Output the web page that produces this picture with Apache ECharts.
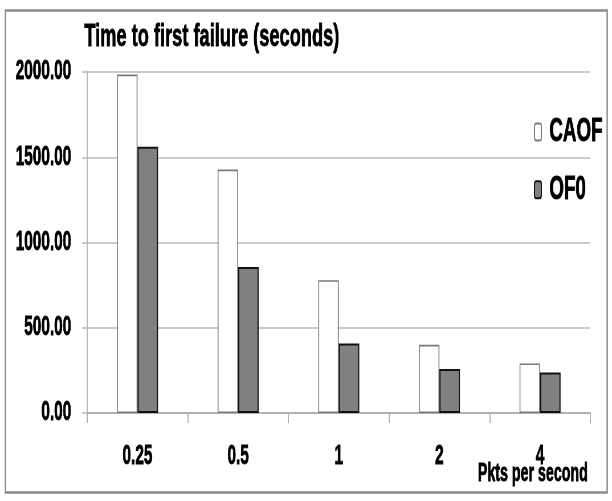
<!DOCTYPE html>
<html>
<head>
<meta charset="utf-8">
<script src="https://cdn.jsdelivr.net/npm/echarts@6/dist/echarts.min.js"></script>
<style>
html,body{margin:0;padding:0;background:#fff;overflow:hidden;width:612px;height:501px;}
#wrap{width:612px;height:501px;overflow:hidden;position:relative;}
#chart{width:1074px;height:501px;transform-origin:0 0;transform:scaleX(0.569832);position:absolute;left:0;top:0;}
</style>
</head>
<body>
<div id="wrap"><div id="chart"></div></div>
<script>
var categories = ['0.25', '0.5', '1', '2', '4'];
var caofValues = [1985, 1428, 779, 400, 291];
var of0Values = [1562, 857, 408, 258, 238];
var yTicks = [0, 500, 1000, 1500, 2000];
var titleText = 'Time to first failure (seconds)';
var xAxisName = 'Pkts per second';

var FONT = '"Liberation Sans", Arial, sans-serif';
var BOLDEN = {textBorderColor: '#000', textBorderWidth: 0.8};
var chart = echarts.init(document.getElementById('chart'), null, {renderer: 'canvas', width: 1074, height: 501});
chart.setOption({
  animation: false,
  backgroundColor: '#fff',
  title: {
    text: titleText,
    left: 143,
    top: 16,
    textStyle: Object.assign({fontFamily: FONT, fontWeight: 'bold', fontSize: 32, color: '#000'}, BOLDEN)
  },
  legend: {
    orient: 'vertical',
    left: 932,
    top: 110,
    itemWidth: 12,
    itemHeight: 17,
    itemGap: 24,
    textStyle: Object.assign({fontFamily: FONT, fontWeight: 'bold', fontSize: 33, color: '#000', padding: [0, 0, 0, 9]}, BOLDEN),
    data: ['CAOF', 'OF0']
  },
  grid: {left: 153, right: 38, top: 72, bottom: 88, containLabel: false, outerBoundsMode: 'none'},
  xAxis: {
    type: 'category',
    data: categories,
    axisLine: {show: true, lineStyle: {color: '#a8a8a8', width: 1.5}},
    axisTick: {show: true, length: 10, alignWithLabel: false, lineStyle: {color: '#a8a8a8', width: 1.8}},
    axisLabel: Object.assign({margin: 30, fontFamily: FONT, fontWeight: 'bold', fontSize: 27, color: '#000'}, BOLDEN),
    splitLine: {show: false}
  },
  yAxis: {
    type: 'value',
    min: yTicks[0],
    max: yTicks[yTicks.length - 1],
    interval: yTicks[1] - yTicks[0],
    axisLine: {show: true, lineStyle: {color: '#b0b0b0', width: 1.8}},
    axisTick: {show: true, length: 9, lineStyle: {color: '#b8b8b8', width: 1.5}},
    axisLabel: Object.assign({margin: 28, fontFamily: FONT, fontWeight: 'bold', fontSize: 27, color: '#000',
      formatter: function (v) { return v.toFixed(2); }}, BOLDEN),
    splitLine: {show: true, lineStyle: {color: '#b8b8b8', width: 1.5}}
  },
  series: [
    {
      name: 'CAOF', type: 'bar', data: caofValues,
      barWidth: 36, barGap: '0%',
      itemStyle: {color: '#ffffff', borderColor: '#7a7a7a', borderWidth: 1.6}
    },
    {
      name: 'OF0', type: 'bar', data: of0Values,
      barWidth: 36, barGap: '0%',
      itemStyle: {color: '#808080', borderColor: '#111', borderWidth: 2}
    }
  ],
  graphic: [
    {type: 'rect', left: 7, top: 8, shape: {width: 1056, height: 482},
      style: {fill: 'none', stroke: '#8a8a8a', lineWidth: 2.5}, silent: true, z: -1},
    {type: 'text', right: 42, top: 461,
      style: {text: xAxisName, font: 'bold 25px ' + FONT, fill: '#000', stroke: '#000', lineWidth: 0.8}}
  ]
});
</script>
</body>
</html>
